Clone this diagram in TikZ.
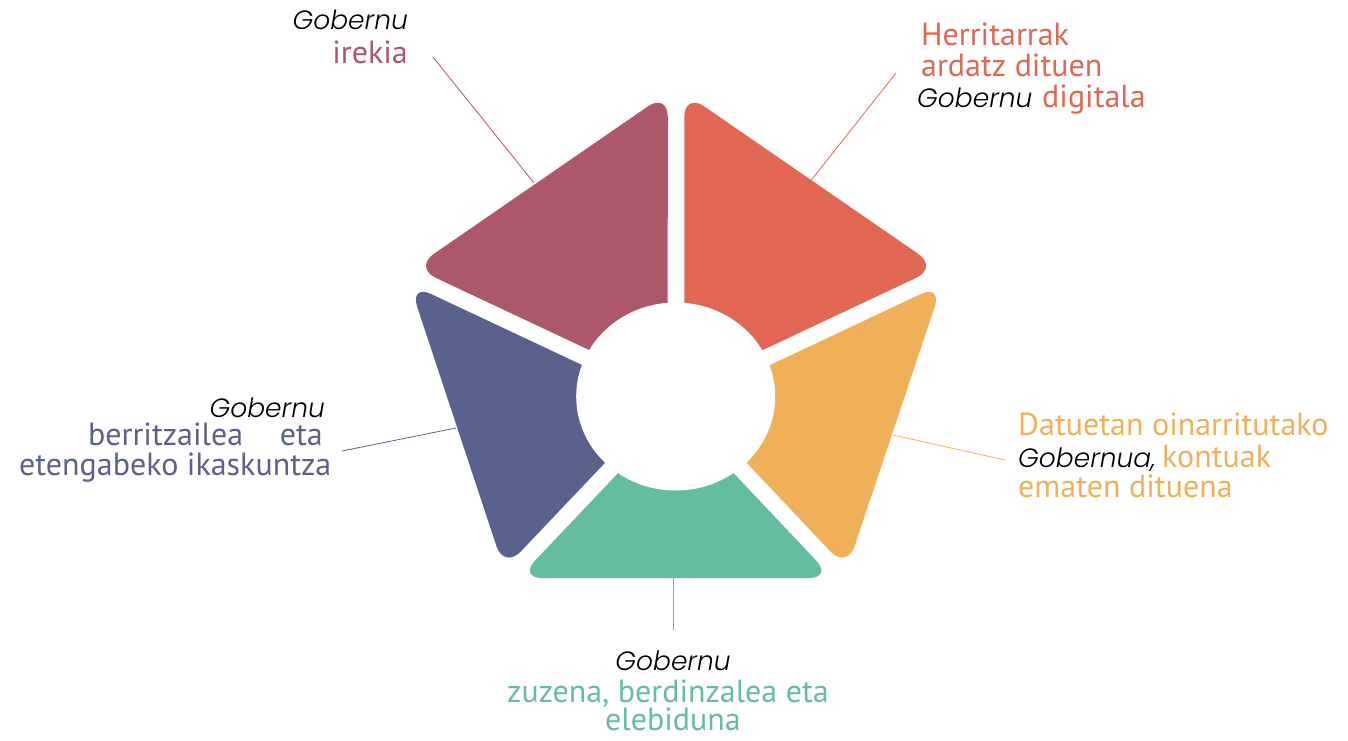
\documentclass[tikz,border=0pt]{standalone}
\usepackage{fontspec}
\newfontfamily\txtf{PT Sans}
\newfontfamily\gobf{Poppins Light Italic}
\usetikzlibrary{calc}
\definecolor{cpur}{HTML}{AD576B}
\definecolor{cred}{HTML}{E06752}
\definecolor{cora}{HTML}{F0B059}
\definecolor{cgre}{HTML}{64BE9E}
\definecolor{cblu}{HTML}{59618D}
\def\gapw{8.3pt}
\def\rcor{24pt}
\newcommand\mkseg[4]{%
  \coordinate (#4a1) at ($(C)!\gapw!-90:(#1)$);
  \coordinate (#4a2) at ($(#1)!\gapw!90:(C)$);
  \coordinate (#4b1) at ($(C)!\gapw!90:(#2)$);
  \coordinate (#4b2) at ($(#2)!\gapw!-90:(C)$);
  \coordinate (#4I) at (intersection of #4a1--#4a2 and #4b1--#4b2);
  \coordinate (#4A) at (intersection of #4a1--#4a2 and #1--#2);
  \coordinate (#4B) at (intersection of #4b1--#4b2 and #1--#2);
  \fill[#3, rounded corners=\rcor] (#4I) -- (#4A) -- (#4B) -- cycle;
}
\begin{document}
\begin{tikzpicture}[x=1pt,y=-1pt,
  lbl/.style={inner sep=0pt, text depth=0pt, font=\txtf\fontsize{32}{32}\selectfont},
  gob/.style={inner sep=0pt, text depth=0pt, font=\gobf\fontsize{26.5}{26.5}\selectfont, text=black},
  lead/.style={line width=0.8pt}]
\useasboundingbox (0,0) rectangle (1348,740);
\coordinate (C) at (676,400);
\coordinate (V0) at (676,87);
\coordinate (V1) at (946,273);
\coordinate (V2) at (844,578);
\coordinate (V3) at (507,578);
\coordinate (V4) at (406,273);
\mkseg{V0}{V1}{cred}{r}
\mkseg{V1}{V2}{cora}{o}
\mkseg{V2}{V3}{cgre}{g}
\mkseg{V3}{V4}{cblu}{b}
\mkseg{V4}{V0}{cpur}{p}
\fill[white] (675.7,396.5) ellipse [x radius=99.5pt, y radius=94pt];
% labels top-left
\node[gob, anchor=base east] (tl1) at (408,29) {Gobernu};
\node[lbl, text=cpur, anchor=base east] (tl2) at (408,63) {irekia};
% top-right
\node[lbl, text=cred, anchor=base west] (tr1) at (921,45) {Herritarrak};
\node[lbl, text=cred, anchor=base west] (tr2) at (921,76) {ardatz dituen};
\node[gob, anchor=base west] (tr3) at (917,107) {Gobernu};
\node[lbl, text=cred, anchor=base west] (tr4) at (1042,107) {digitala};
% right
\node[lbl, text=cora, anchor=base west] (r1) at (1018,435) {Datuetan oinarritutako};
\node[gob, anchor=base west] (r2) at (1018,467) {Gobernua,};
\node[lbl, text=cora, anchor=base west] (r3) at (1162,467) {kontuak};
\node[lbl, text=cora, anchor=base west] (r4) at (1018,497) {ematen dituena};
% left
\node[gob, anchor=base east] (l1) at (325,417) {Gobernu};
\node[lbl, text=cblu, anchor=base west] (l2) at (88,445) {berritzailea};
\node[lbl, text=cblu, anchor=base east] (l3) at (323,445) {eta};
\node[lbl, text=cblu, anchor=base west] (l4) at (19,475) {etengabeko ikaskuntza};
% bottom
\node[gob, anchor=base] (b1) at (673,670) {Gobernu};
\node[lbl, text=cgre, anchor=base] (b2) at (668,702) {zuzena, berdinzalea eta};
\node[lbl, text=cgre, anchor=base] (b3) at (673,730) {elebiduna};
% leader lines
\coordinate (pl1) at (433,57); \coordinate (pl2) at (534,183);
\coordinate (rl1) at (896,73); \coordinate (rl2) at (809,183);
\coordinate (ol1) at (893,435); \coordinate (ol2) at (1005,460);
\coordinate (bl1) at (342,451); \coordinate (bl2) at (456,428);
\coordinate (gl1) at (673.5,578); \coordinate (gl2) at (673.5,630);
\draw[lead, cpur] (pl1) -- (pl2);
\draw[lead, cred] (rl1) -- (rl2);
\draw[lead, cora] (ol1) -- (ol2);
\draw[lead, cblu] (bl1) -- (bl2);
\draw[lead, cgre] (gl1) -- (gl2);
\end{tikzpicture}
\end{document}
